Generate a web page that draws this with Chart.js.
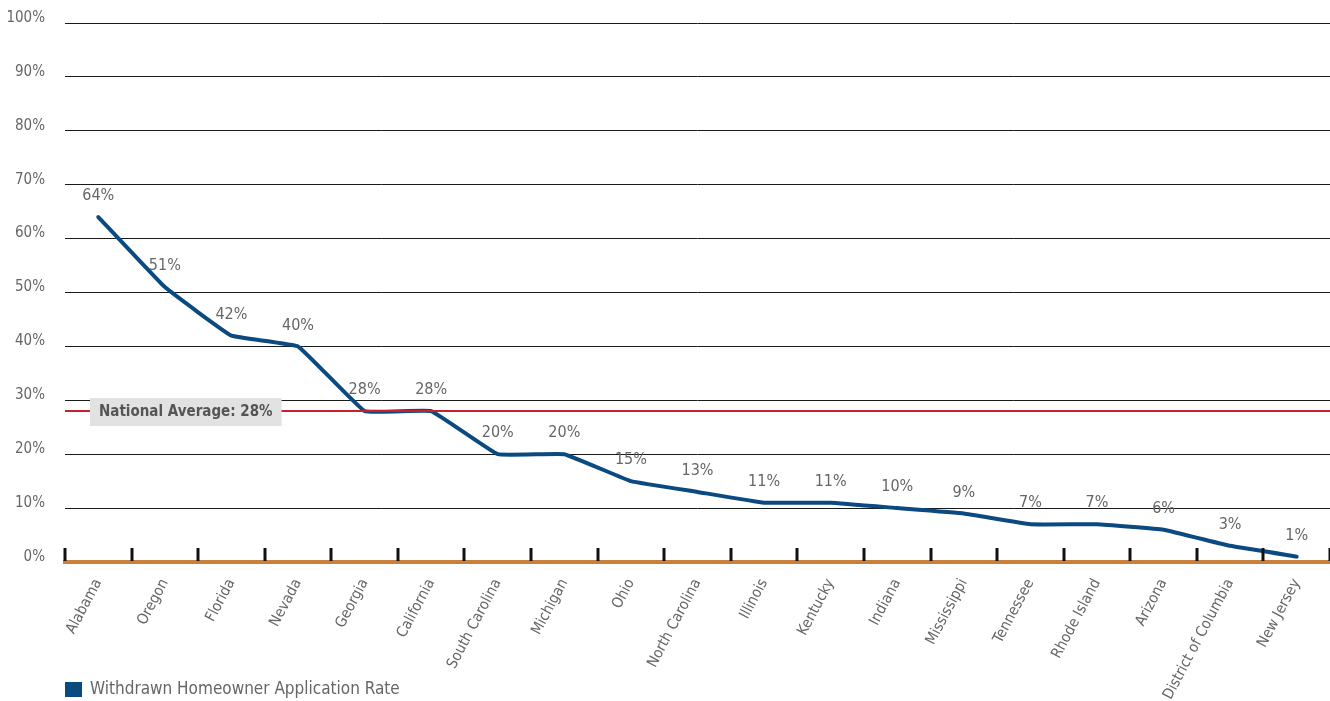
<!DOCTYPE html>
<html>
<head>
    <script src="https://cdn.jsdelivr.net/npm/chart.js@4.4.0/dist/chart.umd.min.js"></script>
    <title>Withdrawn Homeowner Application Rate</title>
    <style>
        body { margin: 0; background: #fff; }
        #graph-area { width: 1330px; height: 701px; }
    </style>
</head>
<body>
<div id="graph-area">
<canvas id="myChart"></canvas>
</div>

<script>
    var states = ['Alabama', 'Oregon', 'Florida', 'Nevada', 'Georgia', 'California', 'South Carolina',
        'Michigan', 'Ohio', 'North Carolina', 'Illinois', 'Kentucky', 'Indiana', 'Mississippi',
        'Tennessee', 'Rhode Island', 'Arizona', 'District of Columbia', 'New Jersey'];
    var withdrawnRate = [64, 51, 42, 40, 28, 28, 20, 20, 15, 13, 11, 11, 10, 9, 7, 7, 6, 3, 1];
    var nationalAverage = 28;
    var seriesName = 'Withdrawn Homeowner Application Rate';

    var fontFamily = '"Liberation Sans Narrow", "DejaVu Sans Condensed", "Roboto", sans-serif';
    var gray = '#666666';
    var blue = '#0b4a80';

    // labels above each point, tick marks on the axis, average line and the legend
    var extrasPlugin = {
        id: 'extras',
        afterDatasetsDraw: function(chart) {
            var ctx = chart.ctx;
            var x = chart.scales.x, y = chart.scales.y;
            var area = chart.chartArea;
            ctx.save();

            // average line + label box
            var yAvg = y.getPixelForValue(nationalAverage);
            ctx.strokeStyle = '#c8202f';
            ctx.lineWidth = 2;
            ctx.beginPath();
            ctx.moveTo(area.left, yAvg);
            ctx.lineTo(area.right, yAvg);
            ctx.stroke();
            ctx.font = 'bold 15px ' + fontFamily;
            var txt = 'National Average: ' + nationalAverage + '%';
            var w = ctx.measureText(txt).width;
            ctx.fillStyle = '#e2e2e2';
            ctx.fillRect(area.left + 25, yAvg - 13, w + 18, 28);
            ctx.fillStyle = '#555555';
            ctx.textAlign = 'left';
            ctx.textBaseline = 'middle';
            ctx.fillText(txt, area.left + 34, yAvg + 1);

            // short tick marks between categories
            ctx.strokeStyle = '#111';
            ctx.lineWidth = 3;
            for (var i = 0; i <= states.length; i++) {
                var px = Math.round(x.getPixelForValue(i - 0.5));
                ctx.beginPath();
                ctx.moveTo(px, area.bottom - 14);
                ctx.lineTo(px, area.bottom - 1);
                ctx.stroke();
            }
            ctx.restore();
        },
        afterDraw: function(chart) {
            var ctx = chart.ctx;
            var meta = chart.getDatasetMeta(0);
            ctx.save();
            ctx.font = '16px ' + fontFamily;
            ctx.fillStyle = gray;
            ctx.textAlign = 'center';
            ctx.textBaseline = 'middle';
            meta.data.forEach(function(pt, i) {
                ctx.fillText(withdrawnRate[i] + '%', pt.x, pt.y - 21);
            });

            // legend
            var left = chart.chartArea.left;
            ctx.fillStyle = blue;
            ctx.fillRect(left, 682, 17, 15);
            ctx.font = '17px ' + fontFamily;
            ctx.fillStyle = gray;
            ctx.textAlign = 'left';
            ctx.fillText(seriesName, left + 25, 690);
            ctx.restore();
        }
    };

    var ctx = document.getElementById('myChart').getContext('2d');
    var myChart = new Chart(ctx, {
        type: 'line',
        data: {
            labels: states,
            datasets: [
                {
                    label: seriesName,
                    data: withdrawnRate,
                    borderColor: blue,
                    backgroundColor: blue,
                    borderWidth: 4,
                    pointRadius: 0,
                    tension: 0.08,
                    borderCapStyle: 'round',
                    borderJoinStyle: 'round'
                }
            ]
        },
        options: {
            responsive: true,
            maintainAspectRatio: false,
            animation: false,
            layout: { padding: { top: 23, right: 0, left: 0, bottom: 0 } },
            scales: {
                x: {
                    offset: true,
                    grid: { display: false, offset: true },
                    border: { color: '#c8803a', width: 4 },
                    ticks: {
                        color: gray,
                        font: { family: fontFamily, size: 15 },
                        minRotation: 62,
                        maxRotation: 62,
                        autoSkip: false,
                        padding: 6
                    },
                    afterFit: function(axis) {
                        axis.height = 139;
                        axis.paddingLeft = 0;
                        axis.paddingRight = 0;
                    }
                },
                y: {
                    min: 0,
                    max: 100,
                    grid: { color: '#1a1a1a', lineWidth: 1, drawTicks: false },
                    border: { display: false },
                    ticks: {
                        stepSize: 10,
                        color: gray,
                        font: { family: fontFamily, size: 15 },
                        padding: 20,
                        labelOffset: -5,
                        callback: function(v) { return v + '%'; }
                    },
                    afterFit: function(axis) {
                        axis.width = 65;
                        axis.paddingTop = 0;
                        axis.paddingBottom = 0;
                    }
                }
            },
            plugins: {
                legend: { display: false },
                tooltip: { enabled: false }
            }
        },
        plugins: [extrasPlugin]
    });
</script>
</body>
</html>
